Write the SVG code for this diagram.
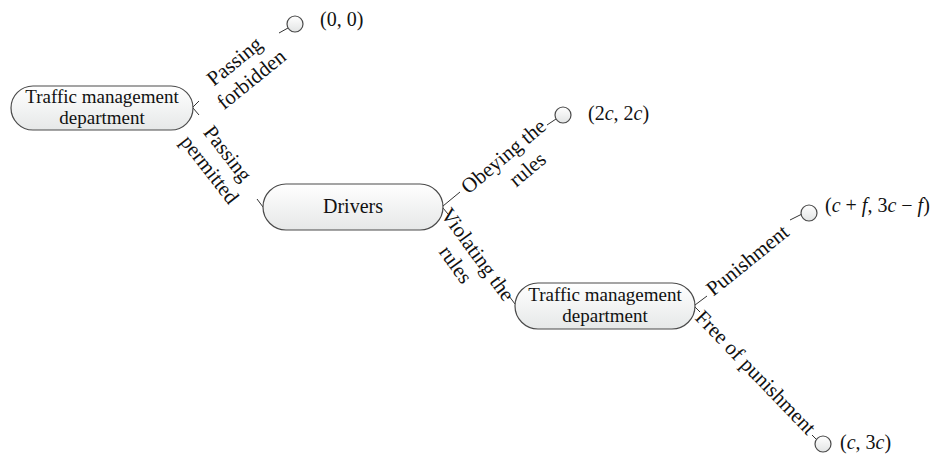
<svg xmlns="http://www.w3.org/2000/svg" width="948" height="459" viewBox="0 0 948 459">
<defs>
<linearGradient id="gNode" x1="0" y1="0" x2="0" y2="1">
<stop offset="0" stop-color="#ffffff"/>
<stop offset="1" stop-color="#e6e8e8"/>
</linearGradient>
<linearGradient id="gLeaf" x1="0" y1="0" x2="0" y2="1">
<stop offset="0" stop-color="#ffffff"/>
<stop offset="1" stop-color="#e2e4e4"/>
</linearGradient>
<style>
.node{fill:url(#gNode);stroke:#4a4a4a;stroke-width:1.2}
.leaf{fill:url(#gLeaf);stroke:#4a4a4a;stroke-width:1.2}
.nt{font-family:"Liberation Serif","Times New Roman",serif;font-size:20px;fill:#111;text-anchor:middle}
.nt2{font-family:"Liberation Serif","Times New Roman",serif;font-size:19px;fill:#111;text-anchor:middle}
.lb{font-family:"Liberation Serif","Times New Roman",serif;font-size:21px;fill:#111;text-anchor:middle}
.vt{font-family:"Liberation Serif","Times New Roman",serif;font-size:20px;fill:#111}
.it{font-style:italic}
.cn{stroke:#333;stroke-width:1;fill:none}
</style>
</defs>
<rect width="948" height="459" fill="#ffffff"/>

<g id="connectors">
<path class="cn" d="M193,107 L199,101 M279,33 L288,28"/>
<path class="cn" d="M193,108 L199,115 M257,199 L263,207"/>
<path class="cn" d="M443,206 L460,192 M547,125 L556,119"/>
<path class="cn" d="M443,208 L448,214 M509,296 L515,304"/>
<path class="cn" d="M695,305 L707,296 M790,220 L802,214"/>
<path class="cn" d="M695,307 L700,312 M812,435 L817,440"/>
</g>

<g id="labels">
<text class="lb" transform="translate(235,62) rotate(-39)" y="6">Passing</text>
<text class="lb" transform="translate(252,80) rotate(-39)" y="6">forbidden</text>
<text class="lb" transform="translate(227,154) rotate(52)" y="6">Passing</text>
<text class="lb" transform="translate(209,170) rotate(52)" y="6">permitted</text>
<text class="lb" transform="translate(504,157) rotate(-40)" y="6">Obeying the</text>
<text class="lb" transform="translate(528,170) rotate(-40)" y="6">rules</text>
<text class="lb" transform="translate(477,255) rotate(54)" y="6">Violating the</text>
<text class="lb" transform="translate(455,265) rotate(54)" y="6">rules</text>
<text class="lb" transform="translate(748,261) rotate(-39)" y="6">Punishment</text>
<text class="lb" transform="translate(755,373) rotate(46)" y="6">Free of punishment</text>
</g>

<g id="node-tmd1">
<rect class="node" x="11" y="86" width="182" height="44" rx="22"/>
<text class="nt2" x="102" y="103">Traffic management</text>
<text class="nt2" x="102" y="124">department</text>
</g>

<g id="node-drivers">
<rect class="node" x="263" y="184" width="180" height="46" rx="23"/>
<text class="nt" x="353" y="213">Drivers</text>
</g>

<g id="node-tmd2">
<rect class="node" x="515" y="283" width="180" height="46" rx="23"/>
<text class="nt2" x="605" y="301">Traffic management</text>
<text class="nt2" x="605" y="322">department</text>
</g>

<g id="leaf-00">
<circle class="leaf" cx="295" cy="24" r="8"/>
<text class="vt" x="320" y="26">(0, 0)</text>
</g>

<g id="leaf-2c2c">
<circle class="leaf" cx="563" cy="115" r="8"/>
<text class="vt" x="588" y="120">(2<tspan class="it">c</tspan>, 2<tspan class="it">c</tspan>)</text>
</g>

<g id="leaf-cf">
<circle class="leaf" cx="809" cy="213" r="8"/>
<text class="vt" x="825" y="212">(<tspan class="it">c</tspan> + <tspan class="it">f</tspan>, 3<tspan class="it">c</tspan> − <tspan class="it">f</tspan>)</text>
</g>

<g id="leaf-c3c">
<circle class="leaf" cx="823" cy="444" r="8"/>
<text class="vt" x="840" y="449">(<tspan class="it">c</tspan>, 3<tspan class="it">c</tspan>)</text>
</g>
</svg>
